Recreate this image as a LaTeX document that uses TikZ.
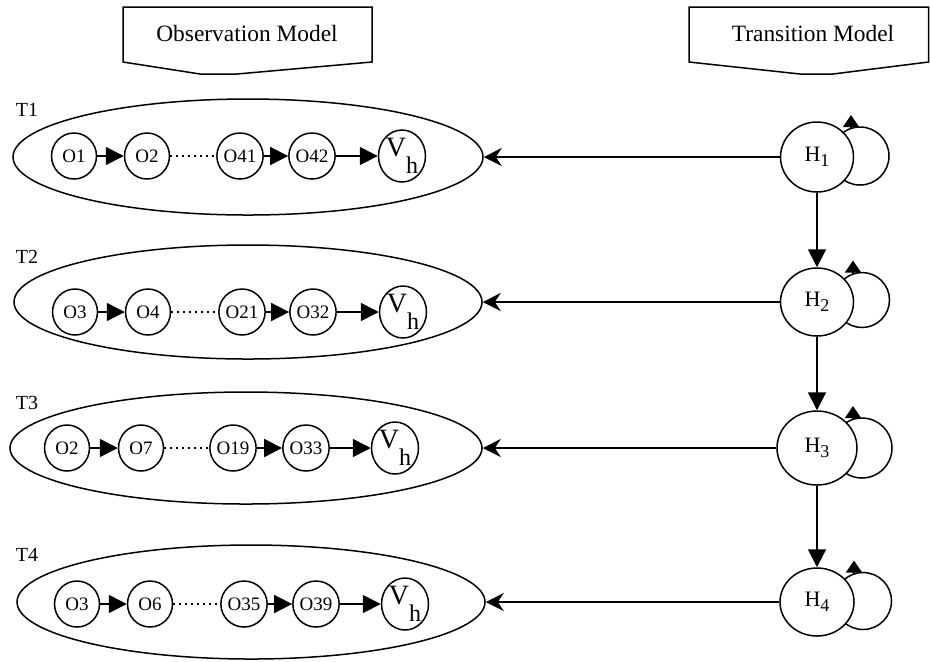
\documentclass[tikz,border=0pt]{standalone}
\usepackage{fontspec}
\setmainfont{Liberation Serif}
\usetikzlibrary{shapes.geometric,arrows.meta}

\newcommand{\hsub}[1]{H\raisebox{-2.5pt}{\fontsize{9}{9}\selectfont #1}}
\newcommand{\vsubh}{V\raisebox{-8.5pt}{\fontsize{12}{12}\selectfont h}}

\begin{document}
\begin{tikzpicture}[x=0.5pt,y=-0.5pt,line width=0.75pt,
  ell/.style={draw,ellipse,inner sep=0pt},
  obs/.style={draw,ellipse,fill=white,inner sep=0pt,minimum width=22.5pt,minimum height=23pt,font=\fontsize{9.5}{10}\selectfont},
  vnode/.style={obs,minimum width=23.5pt,minimum height=26pt,font=\fontsize{14}{14}\selectfont},
  hnode/.style={draw,ellipse,fill=white,inner sep=0pt,font=\fontsize{11}{12}\selectfont},
  lbl/.style={inner sep=0pt,font=\fontsize{10}{12}\selectfont},
  head/.style={inner sep=0pt,font=\fontsize{11.7}{13}\selectfont},
  arr/.style={line width=0.9pt,-{Triangle[length=9pt,width=9pt]}},
  harr/.style={line width=0.9pt,-{Stealth[length=9pt,width=9pt,inset=3pt]}},
  dots/.style={line width=1pt,dotted},
  looptip/.style={line width=0.75pt,-{Triangle[length=6pt,width=8pt]}}]
\useasboundingbox (0,0) rectangle (930,661);

% model boxes
\draw (123,7) -- (372,7) -- (372,62) -- (237,74) -- (200,74) -- (123,62) -- cycle;
\draw (689,7) -- (928.5,7) -- (928.5,62) -- (833,74) -- (800,74) -- (689,62) -- cycle;
\node[head] (obsmodel) at (247,33) {Observation Model};
\node[head] (transmodel) at (813,33) {Transition Model};

% time slices
\node[ell,minimum width=235pt,minimum height=58pt] (t1) at (248,157) {};
\node[ell,minimum width=234pt,minimum height=57pt] (t2) at (248,302) {};
\node[ell,minimum width=236pt,minimum height=56pt] (t3) at (246,448) {};
\node[ell,minimum width=234pt,minimum height=57pt] (t4) at (251,602) {};

\node[lbl] (lt1) at (27,110) {T1};
\node[lbl] (lt2) at (27,257) {T2};
\node[lbl] (lt3) at (27,403) {T3};
\node[lbl] (lt4) at (27,555) {T4};

% row 1
\node[obs] (o11) at (74,156) {O1};
\node[obs] (o12) at (147,156) {O2};
\node[obs] (o13) at (240,156) {O41};
\node[obs] (o14) at (312,156) {O42};
\node[vnode] (v1) at (402,156) {\vsubh};
\draw[arr] (o11) -- (o12);
\draw[dots] (o12) -- (o13);
\draw[arr] (o13) -- (o14);
\draw[arr] (o14) -- (v1);

% row 2
\node[obs] (o21) at (75,312) {O3};
\node[obs] (o22) at (148,312) {O4};
\node[obs] (o23) at (242,312) {O21};
\node[obs] (o24) at (313,312) {O32};
\node[vnode] (v2) at (403,312) {\vsubh};
\draw[arr] (o21) -- (o22);
\draw[dots] (o22) -- (o23);
\draw[arr] (o23) -- (o24);
\draw[arr] (o24) -- (v2);

% row 3
\node[obs] (o31) at (67,448) {O2};
\node[obs] (o32) at (141,448) {O7};
\node[obs] (o33) at (233,448) {O19};
\node[obs] (o34) at (306,448) {O33};
\node[vnode] (v3) at (395,448) {\vsubh};
\draw[arr] (o31) -- (o32);
\draw[dots] (o32) -- (o33);
\draw[arr] (o33) -- (o34);
\draw[arr] (o34) -- (v3);

% row 4
\node[obs] (o41) at (77,604) {O3};
\node[obs] (o42) at (150,604) {O6};
\node[obs] (o43) at (244,604) {O35};
\node[obs] (o44) at (316,604) {O39};
\node[vnode] (v4) at (405,604) {\vsubh};
\draw[arr] (o41) -- (o42);
\draw[dots] (o42) -- (o43);
\draw[arr] (o43) -- (o44);
\draw[arr] (o44) -- (v4);

% self loops (behind the hidden states)
\coordinate (c1) at (860,156);
\coordinate (c2) at (862,300);
\coordinate (c3) at (862,448);
\coordinate (c4) at (863,601);
\draw (c1) circle (14.5pt);
\draw (c2) circle (13.75pt);
\draw (c3) circle (15pt);
\draw (c4) circle (14.25pt);
\draw[looptip] ([shift={(-9,-28)}]c1) -- ([shift={(-9,-41)}]c1);
\draw[looptip] ([shift={(-9,-26.5)}]c2) -- ([shift={(-9,-39.5)}]c2);
\draw[looptip] ([shift={(-9,-29)}]c3) -- ([shift={(-9,-42)}]c3);
\draw[looptip] ([shift={(-9,-27.5)}]c4) -- ([shift={(-9,-40.5)}]c4);

% hidden states
\node[hnode,minimum width=36.5pt,minimum height=35pt] (h1) at (817,157) {\hsub{1}};
\node[hnode,minimum width=36.5pt,minimum height=34pt] (h2) at (817,302) {\hsub{2}};
\node[hnode,minimum width=40pt,minimum height=37pt] (h3) at (817,448) {\hsub{3}};
\node[hnode,minimum width=37pt,minimum height=34pt] (h4) at (817,602) {\hsub{4}};

\draw[arr] (h1) -- (h2);
\draw[arr] (h2) -- (h3);
\draw[arr] (h3) -- (h4);

\draw[harr] (h1) -- (t1.east);
\draw[harr] (h2) -- (t2.east);
\draw[harr] (h3) -- (t3.east);
\draw[harr] (h4) -- (t4.east);

\end{tikzpicture}
\end{document}
